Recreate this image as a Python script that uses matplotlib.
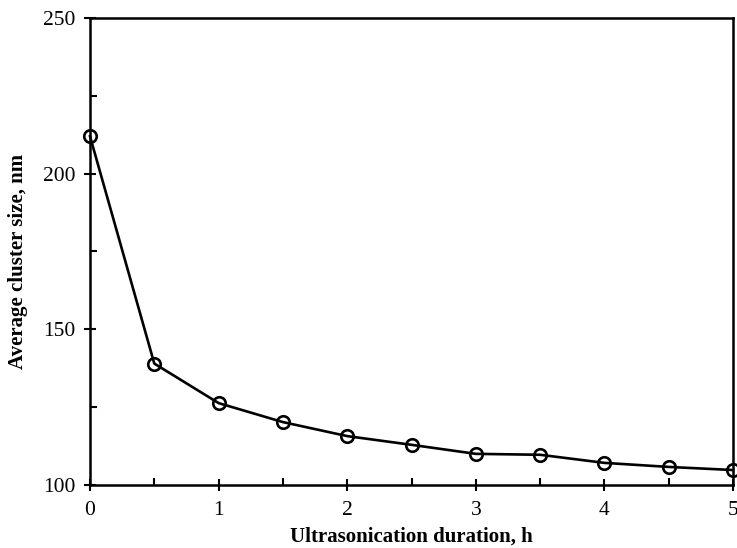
import matplotlib
matplotlib.use("Agg")
import matplotlib.pyplot as plt
from matplotlib.ticker import MultipleLocator

# Sonication time (h) vs mean cluster size (nm)
duration_h = [0, 0.5, 1, 1.5, 2, 2.5, 3, 3.5, 4, 4.5, 5]
cluster_nm = [212, 139, 126.3, 120.2, 115.7, 112.9, 110.0, 109.7, 107.1, 105.8, 104.8]

plt.rcParams.update({
    "font.family": "serif",
    "font.serif": ["Liberation Serif", "DejaVu Serif"],
    "font.size": 15,
})

fig = plt.figure(figsize=(7.37, 5.48), dpi=100)
ax = fig.add_axes([0.1221, 0.1150, 0.8725, 0.8522])

ax.plot(duration_h, cluster_nm, color="black", linewidth=1.9,
        marker="o", markersize=9, markerfacecolor="none",
        markeredgewidth=1.9, markeredgecolor="black", clip_on=False, zorder=3)

ax.set_xlim(0, 5)
ax.set_ylim(100, 250)
ax.xaxis.set_major_locator(MultipleLocator(1))
ax.xaxis.set_minor_locator(MultipleLocator(0.5))
ax.yaxis.set_major_locator(MultipleLocator(50))
ax.yaxis.set_minor_locator(MultipleLocator(25))

ax.tick_params(which="major", direction="inout", length=9, width=1.5,
               labelsize=15.5)
ax.tick_params(axis="y", which="major", pad=6)
ax.tick_params(axis="x", which="major", pad=7)
ax.tick_params(which="minor", direction="in", length=5, width=1.5)

for s in ax.spines.values():
    s.set_linewidth(1.8)

ax.set_xlabel("Ultrasonication duration, h", fontweight="bold", labelpad=5)
ax.set_ylabel("Average cluster size, nm", fontweight="bold")
ax.yaxis.set_label_coords(-0.096, 0.478)

fig.savefig("out.png", dpi=100)
